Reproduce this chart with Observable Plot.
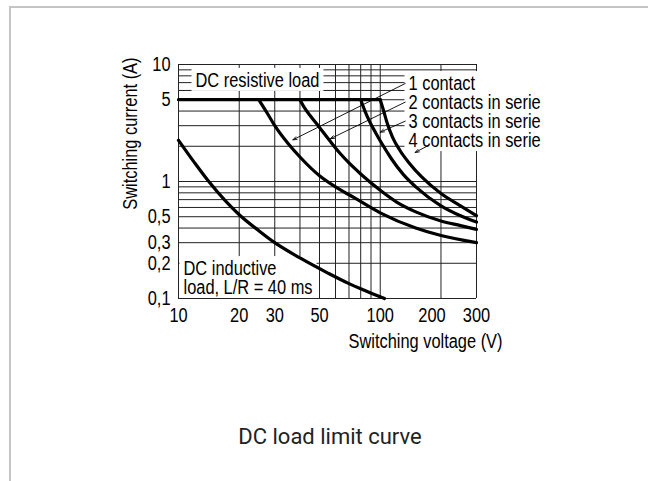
<!DOCTYPE html>
<html><head><meta charset="utf-8">
<script src="https://cdn.jsdelivr.net/npm/d3@7"></script>
<script src="https://cdn.jsdelivr.net/npm/@observablehq/plot@0.6"></script>
<style>
body{margin:0;background:#fff;width:648px;height:481px;overflow:hidden;position:relative;font-family:Roboto,sans-serif}
#card{position:absolute;left:9px;top:6px;width:700px;height:520px;border:2px solid #c4c4c4;box-sizing:border-box}
#chart{position:absolute;left:0;top:0}
#caption{position:absolute;left:0;width:660px;top:424px;text-align:center;font-size:22px;color:#222}
</style></head><body>
<div id="card"></div>
<div id="chart"></div>
<div id="caption">DC load limit curve</div>
<script>
const voltageTicks = [10, 20, 30, 50, 100, 300];
const voltageTicksShifted = [200];
const currentTicks = [0.1, 0.2, 0.3, 0.5, 1, 5, 10];
const voltageGrid = [10, 20, 30, 40, 50, 60, 70, 80, 90, 100, 200, 300];
const currentGrid = [0.1, 0.2, 0.3, 0.4, 0.5, 0.6, 0.7, 0.8, 0.9, 1, 2, 3, 4, 5, 6, 7, 8, 9, 10];

const resistiveV = [10, 100];
const resistiveI = [5, 5];
const inductiveV = [10, 12, 14, 17, 20, 25, 30, 40, 55, 70, 85, 105];
const inductiveI = [2.25, 1.45, 1.02, 0.69, 0.52, 0.38, 0.30, 0.222, 0.165, 0.134, 0.116, 0.1];
const contact1V = [25, 27.5, 30, 35, 40, 50, 60, 75, 100, 150, 200, 300];
const contact1I = [5, 3.85, 3.0, 2.1, 1.62, 1.12, 0.9, 0.72, 0.54, 0.40, 0.345, 0.30];
const contact2V = [40, 42, 45, 50, 56, 63, 70, 80, 100, 120, 150, 200, 250, 300];
const contact2I = [5, 4.3, 3.65, 2.9, 2.25, 1.75, 1.44, 1.16, 0.84, 0.67, 0.55, 0.46, 0.42, 0.39];
const contact3V = [80, 84, 89, 95, 102, 114, 130, 150, 200, 250, 300];
const contact3I = [5, 4.0, 3.2, 2.6, 2.1, 1.55, 1.15, 0.9, 0.62, 0.51, 0.45];
const contact4V = [100, 104, 108, 115, 125, 140, 160, 200, 250, 300];
const contact4I = [5, 4.0, 3.2, 2.4, 1.85, 1.42, 1.1, 0.79, 0.62, 0.51];

const leaderFromV = [133, 133, 133, 173];
const leaderFromI = [6.88, 4.77, 3.28, 2.03];
const leaderToV = [36.9, 56.6, 100, 149];
const leaderToI = [2.27, 2.32, 2.64, 1.77];

const seriesLabels = ["1 contact", "2 contacts in serie", "3 contacts in serie", "4 contacts in serie"];
const resistiveLabel = "DC resistive load";
const inductiveLabel = ["DC inductive", "load, L/R = 40 ms"];
const xLabel = "Switching voltage (V)";
const yLabel = "Switching current (A)";

const toPoints = (vs, is) => vs.map((v, k) => ({v, i: is[k]}));
const leaders = leaderFromV.map((v, k) => ({v1: v, i1: leaderFromI[k], v2: leaderToV[k], i2: leaderToI[k]}));
const curves = [
  toPoints(inductiveV, inductiveI),
  toPoints(contact1V, contact1I),
  toPoints(contact2V, contact2I),
  toPoints(contact3V, contact3I),
  toPoints(contact4V, contact4I)
];
const fmt = d => String(d).replace(".", ",");
const font = '"Liberation Sans", Arial, sans-serif';
const boxed = () => "boxed";

const chart = Plot.plot({
  width: 648, height: 360,
  marginLeft: 178, marginRight: 172, marginTop: 64, marginBottom: 62,
  style: {fontFamily: font, fontSize: "20px", color: "black", background: "transparent"},
  x: {type: "log", domain: [10, 300]},
  y: {type: "log", domain: [0.1, 10]},
  marks: [
    Plot.ruleY(currentGrid, {stroke: "#222", strokeWidth: 1}),
    Plot.ruleX(voltageGrid, {stroke: "#222", strokeWidth: 1}),
    Plot.axisY({ticks: currentTicks, tickFormat: fmt, tickSize: 0, tickPadding: 8, label: null, fontSize: 20}),
    Plot.axisX({ticks: voltageTicks, tickFormat: d => String(d), tickSize: 0, tickPadding: 9, label: null, fontSize: 20}),
    Plot.axisX({ticks: voltageTicksShifted, tickFormat: d => String(d), tickSize: 0, tickPadding: 9, label: null, fontSize: 20, dx: -9}),
    Plot.text([resistiveLabel], {frameAnchor: "top-left", text: d => d, dx: 17, dy: 16, textAnchor: "start", lineAnchor: "middle", ariaLabel: boxed}),
    Plot.text([inductiveLabel.join("\n")], {frameAnchor: "bottom-left", text: d => d, dx: 5, dy: -20, textAnchor: "start", lineAnchor: "middle", lineHeight: 0.95, ariaLabel: boxed}),
    Plot.text([seriesLabels.join("\n")], {frameAnchor: "top-right", text: d => d, dx: -68, dy: 48, textAnchor: "start", lineAnchor: "middle", lineHeight: 0.95, ariaLabel: boxed}),
    Plot.text([yLabel], {frameAnchor: "top-left", text: d => d, dx: -48, dy: -7, rotate: -90, textAnchor: "end", lineAnchor: "middle"}),
    Plot.text([xLabel], {frameAnchor: "bottom-right", text: d => d, dx: 26, dy: 43, textAnchor: "end", lineAnchor: "middle"}),
    Plot.ruleY([0.1], {stroke: "#222", strokeWidth: 1}),
    Plot.line(toPoints(resistiveV, resistiveI), {x: "v", y: "i", stroke: "black", strokeWidth: 3.2}),
    ...curves.map(c => Plot.line(c, {x: "v", y: "i", stroke: "black", strokeWidth: 3.2, curve: "monotone-x"})),
    Plot.arrow(leaders, {x1: "v1", y1: "i1", x2: "v2", y2: "i2", stroke: "black", strokeWidth: 0.9, headLength: 7, headAngle: 40})
  ]
});
document.getElementById("chart").appendChild(chart);

// condense the chart's lettering (narrow grotesque in the reference)
const NARROW = 0.82;
chart.querySelectorAll("text").forEach(t => {
  const spans = t.querySelectorAll("tspan");
  const targets = spans.length ? Array.from(spans) : [t];
  targets.forEach(el => {
    const len = el.getComputedTextLength();
    if (len > 0) {
      el.setAttribute("textLength", (len * NARROW).toFixed(2));
      el.setAttribute("lengthAdjust", "spacingAndGlyphs");
    }
  });
});
// white label boxes that hide the grid behind in-plot labels
chart.querySelectorAll('text[aria-label="boxed"]').forEach(t => {
  const b = t.getBBox();
  const r = document.createElementNS("http://www.w3.org/2000/svg", "rect");
  r.setAttribute("x", b.x - 4);
  r.setAttribute("y", b.y - 1);
  r.setAttribute("width", b.width + 8);
  r.setAttribute("height", b.height + 1);
  r.setAttribute("fill", "white");
  r.setAttribute("stroke", "none");
  const tr = t.getAttribute("transform");
  if (tr) r.setAttribute("transform", tr);
  t.parentNode.insertBefore(r, t);
});
</script>
</body></html>
